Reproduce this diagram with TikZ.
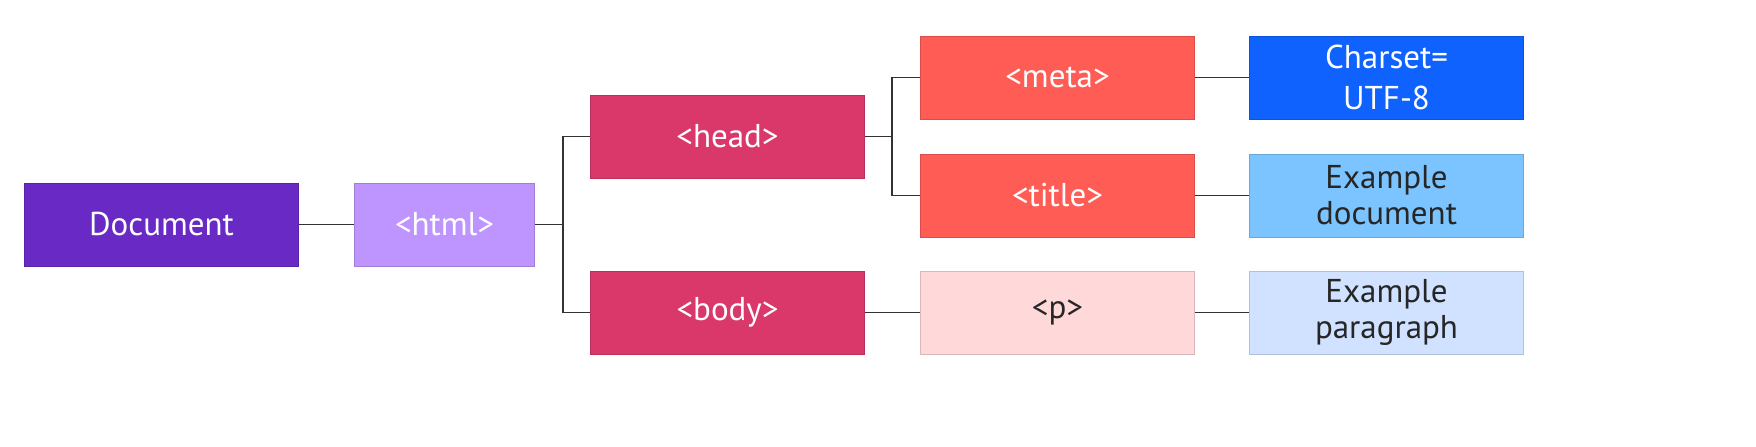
\documentclass[tikz,border=0pt]{standalone}
\usepackage{fontspec}
\setmainfont{PT Sans}
\usetikzlibrary{positioning,calc}

\definecolor{docpurple}{HTML}{6929C4}
\definecolor{htmlpurple}{HTML}{BE95FF}
\definecolor{tagmagenta}{HTML}{DA386B}
\definecolor{tagred}{HTML}{FF5C55}
\definecolor{tagpink}{HTML}{FFD9DA}
\definecolor{valblue}{HTML}{0F62FE}
\definecolor{valcyan}{HTML}{7BC4FF}
\definecolor{valpale}{HTML}{D0E2FF}
\definecolor{linkgray}{HTML}{333333}

\begin{document}
\begin{tikzpicture}
  \tikzset{box/.style={
      draw=#1!85!black, fill=#1, line width=1pt, minimum height=83pt, minimum width=274pt,
      inner sep=0pt, align=center, font=\fontsize{33}{36}\selectfont
    },
    darkbox/.style={box=#1, text=white},
    lightbox/.style={box=#1, text=black!85},
    link/.style={linkgray, line width=1.8pt}
  }

  \useasboundingbox (0,0) rectangle (1756pt,-447pt);

  \node[darkbox=docpurple] (doc) at (161.5pt,-224.5pt) {Document};
  \node[darkbox=htmlpurple, minimum width=180pt] (html) [right=55pt of doc] {<html>};

  \node[darkbox=tagmagenta] (head) [right=55pt of html, yshift=88pt] {<head>};
  \node[darkbox=tagmagenta] (body) [right=55pt of html, yshift=-88pt] {<body>};

  \node[darkbox=tagred] (meta) [right=55pt of head, yshift=59pt] {<meta>};
  \node[darkbox=tagred] (title) [right=55pt of head, yshift=-59pt] {<title>};
  \node[lightbox=tagpink] (p) [right=55pt of body] {<p>};

  \node[darkbox=valblue] (charset) [right=54pt of meta] {Charset=\\[5pt]UTF-8};
  \node[lightbox=valcyan] (exdoc) [right=54pt of title] {Example\\document};
  \node[lightbox=valpale] (expara) [right=54pt of p] {Example\\paragraph};

  \coordinate (htmlsplit) at ($(html.east)+(28pt,0)$);
  \coordinate (headsplit) at ($(head.east)+(27pt,0)$);

  \draw[link] (doc) -- (html);
  \draw[link] (html) -- (htmlsplit) |- (head);
  \draw[link] (htmlsplit) |- (body);
  \draw[link] (head) -- (headsplit) |- (meta);
  \draw[link] (headsplit) |- (title);
  \draw[link] (body) -- (p);
  \draw[link] (meta) -- (charset);
  \draw[link] (title) -- (exdoc);
  \draw[link] (p) -- (expara);
\end{tikzpicture}
\end{document}
